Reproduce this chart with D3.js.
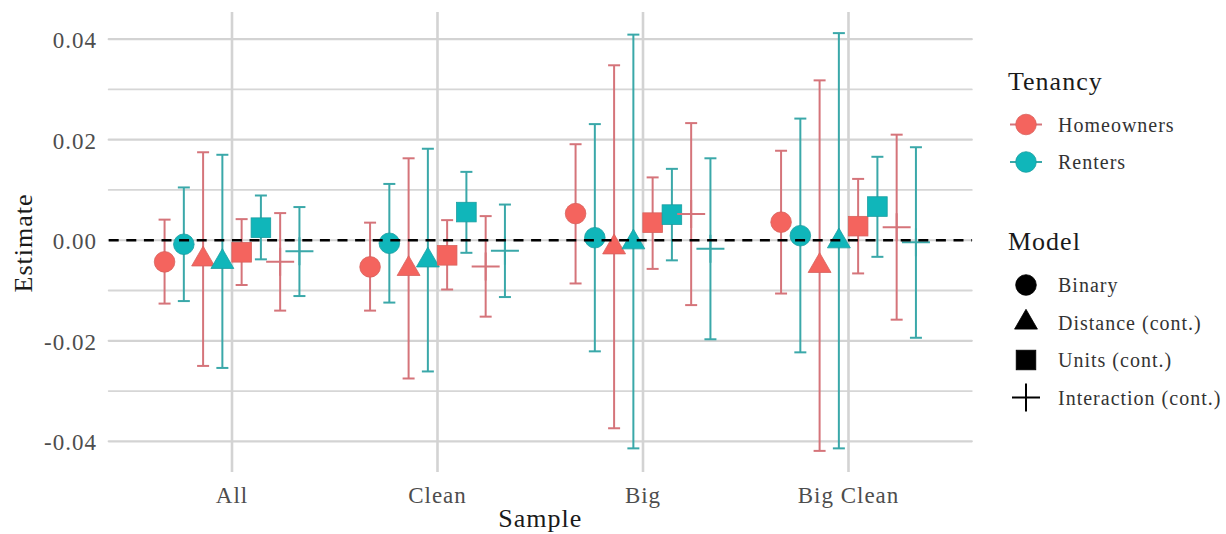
<!DOCTYPE html>
<html>
<head>
<meta charset="utf-8">
<script src="https://cdn.jsdelivr.net/npm/d3@7"></script>
<style>
  html, body { margin: 0; padding: 0; background: #ffffff; }
  svg { display: block; }
  text { font-family: "Liberation Serif", "DejaVu Serif", serif; letter-spacing: 1px; }
</style>
</head>
<body>
<svg id="chart" width="1226" height="534"></svg>
<script>
// Samples on the x axis, models (shape) and tenancy groups (colour)
const samples = ["All", "Clean", "Big", "Big Clean"];
const models = ["Binary", "Distance (cont.)", "Units (cont.)", "Interaction (cont.)"];
const tenancies = ["Homeowners", "Renters"];
const yTickValues = [-0.04, -0.02, 0, 0.02, 0.04];

// Point estimates and 95% interval bounds; one row per model, one column per sample
const ownerEstimate = [
  [-0.0043, -0.0053, 0.0053, 0.0036],
  [-0.0038, -0.0057, -0.0014, -0.0051],
  [-0.0024, -0.0030, 0.0035, 0.0028],
  [-0.0043, -0.0052, 0.0052, 0.0026]
];
const ownerLow = [
  [-0.0126, -0.0140, -0.0086, -0.0106],
  [-0.0250, -0.0275, -0.0374, -0.0419],
  [-0.0089, -0.0098, -0.0057, -0.0066],
  [-0.0140, -0.0152, -0.0129, -0.0158]
];
const ownerHigh = [
  [0.0041, 0.0035, 0.0191, 0.0178],
  [0.0175, 0.0163, 0.0348, 0.0318],
  [0.0042, 0.0040, 0.0125, 0.0122],
  [0.0054, 0.0048, 0.0233, 0.0210]
];
const renterEstimate = [
  [-0.0008, -0.0006, 0.0005, 0.0009],
  [-0.0043, -0.0040, -0.0004, -0.0002],
  [0.0025, 0.0056, 0.0051, 0.0067],
  [-0.0022, -0.0021, -0.0017, -0.0004]
];
const renterLow = [
  [-0.0121, -0.0124, -0.0221, -0.0223],
  [-0.0254, -0.0261, -0.0414, -0.0414],
  [-0.0038, -0.0025, -0.0040, -0.0033],
  [-0.0111, -0.0113, -0.0197, -0.0194]
];
const renterHigh = [
  [0.0105, 0.0112, 0.0231, 0.0242],
  [0.0170, 0.0182, 0.0409, 0.0412],
  [0.0089, 0.0136, 0.0142, 0.0166],
  [0.0066, 0.0071, 0.0163, 0.0185]
];

// Long-format rows for drawing
const rows = [];
samples.forEach((s, si) => {
  models.forEach((m, mi) => {
    rows.push({ sample: s, model: m, tenancy: "Homeowners",
      est: ownerEstimate[mi][si], lo: ownerLow[mi][si], hi: ownerHigh[mi][si] });
    rows.push({ sample: s, model: m, tenancy: "Renters",
      est: renterEstimate[mi][si], lo: renterLow[mi][si], hi: renterHigh[mi][si] });
  });
});

const svg = d3.select("#chart");
svg.append("rect").attr("width", 1226).attr("height", 534).attr("fill", "#ffffff");

const panel = { left: 108.7, right: 971.8, top: 12, bottom: 472 };

const x = d3.scalePoint().domain(samples).range([panel.left, panel.right]).padding(0.6);
const y = d3.scaleLinear().domain([-0.0461, 0.0454]).range([panel.bottom, panel.top]);

// Dodge: 8 slots (model x tenancy) within 75% of a category step
const dodgeKeys = [];
models.forEach(m => tenancies.forEach(t => dodgeKeys.push(m + "|" + t)));
const dodge = d3.scaleBand().domain(dodgeKeys)
  .range([-x.step() * 0.375, x.step() * 0.375]);
const px = d => x(d.sample) + dodge(d.model + "|" + d.tenancy) + dodge.bandwidth() / 2;

const fillColour = d3.scaleOrdinal().domain(tenancies).range(["#F4645E", "#10B6BA"]);
const barColour = d3.scaleOrdinal().domain(tenancies).range(["#D5747A", "#3AA8A9"]);
const edgeColour = d3.scaleOrdinal().domain(tenancies).range(["#D8625D", "#1A9EA1"]);

const fmt = d3.formatLocale({ decimal: ".", thousands: ",", grouping: [3], currency: ["", ""], minus: "-" }).format(".2f");

// Grid
const grid = svg.append("g");
const majorY = y.ticks(5);
const minorY = d3.range(majorY.length - 1).map(i => (majorY[i] + majorY[i + 1]) / 2);
grid.selectAll("line.minor").data(minorY).join("line")
  .attr("x1", panel.left).attr("x2", panel.right)
  .attr("y1", d => y(d)).attr("y2", d => y(d))
  .attr("stroke", "#D6D6D6").attr("stroke-width", 1.8).attr("stroke-linecap", "round");
grid.selectAll("line.major").data(majorY).join("line")
  .attr("x1", panel.left).attr("x2", panel.right)
  .attr("y1", d => y(d)).attr("y2", d => y(d))
  .attr("stroke", "#D3D3D3").attr("stroke-width", 2.2).attr("stroke-linecap", "round");
grid.selectAll("line.vert").data(samples).join("line")
  .attr("x1", d => x(d)).attr("x2", d => x(d))
  .attr("y1", panel.top).attr("y2", panel.bottom)
  .attr("stroke", "#D3D3D3").attr("stroke-width", 2.6);

// Y axis labels
svg.append("g").selectAll("text").data(yTickValues).join("text")
  .attr("x", 97).attr("y", d => y(d) + 9)
  .attr("text-anchor", "end").attr("font-size", 23).attr("fill", "#4D4D4D")
  .text(d => fmt(d));

// X axis labels
svg.append("g").selectAll("text").data(samples).join("text")
  .attr("x", d => x(d)).attr("y", 503)
  .attr("text-anchor", "middle").attr("font-size", 23).attr("fill", "#4D4D4D")
  .text(d => d);

// Axis titles
svg.append("text").attr("x", (panel.left + panel.right) / 2).attr("y", 527)
  .attr("text-anchor", "middle").attr("font-size", 26).attr("fill", "#1A1A1A").text("Sample");
svg.append("text").attr("transform", "translate(32,243) rotate(-90)")
  .attr("text-anchor", "middle").attr("font-size", 26).attr("fill", "#1A1A1A").text("Estimate");

// Error bars
const capHalf = 6;
const bars = svg.append("g");
bars.selectAll("g").data(rows).join("g").each(function (d) {
  const g = d3.select(this);
  const cx = px(d);
  const c = barColour(d.tenancy);
  g.append("line").attr("x1", cx).attr("x2", cx).attr("y1", y(d.lo)).attr("y2", y(d.hi))
    .attr("stroke", c).attr("stroke-width", 2);
  [d.lo, d.hi].forEach(v => g.append("line")
    .attr("x1", cx - capHalf).attr("x2", cx + capHalf).attr("y1", y(v)).attr("y2", y(v))
    .attr("stroke", c).attr("stroke-width", 2));
});

// Point shapes
const R = 8.5; // triangle base radius
function drawShape(g, model, cx, cy, fill, edge, crossColour) {
  if (model === "Binary") {
    g.append("circle").attr("cx", cx).attr("cy", cy).attr("r", 10.3)
      .attr("fill", fill).attr("stroke", edge).attr("stroke-width", 0.8);
  } else if (model === "Distance (cont.)") {
    const r = 1.555 * R, xc = 1.347 * R, yc = 0.778 * R;
    g.append("path")
      .attr("d", `M${cx},${cy - r}L${cx + xc},${cy + yc}L${cx - xc},${cy + yc}Z`)
      .attr("fill", fill).attr("stroke", edge).attr("stroke-width", 0.8);
  } else if (model === "Units (cont.)") {
    g.append("rect").attr("x", cx - 9.8).attr("y", cy - 9.8).attr("width", 19.6).attr("height", 19.6)
      .attr("fill", fill).attr("stroke", edge).attr("stroke-width", 0.8);
  } else {
    g.append("path")
      .attr("d", `M${cx - 14},${cy}H${cx + 14}M${cx},${cy - 14}V${cy + 14}`)
      .attr("fill", "none").attr("stroke", crossColour).attr("stroke-width", 2);
  }
}

const pts = svg.append("g");
rows.forEach(d => {
  const g = pts.append("g");
  drawShape(g, d.model, px(d), y(d.est), fillColour(d.tenancy), edgeColour(d.tenancy), barColour(d.tenancy));
});

// Reference line at zero
svg.append("line").attr("x1", panel.left).attr("x2", panel.right)
  .attr("y1", y(0)).attr("y2", y(0))
  .attr("stroke", "#000000").attr("stroke-width", 2.3).attr("stroke-dasharray", "10 7.6");

// Legends
const lg = svg.append("g");
lg.append("text").attr("x", 1008).attr("y", 90).attr("font-size", 26).attr("fill", "#1A1A1A").text("Tenancy");
const tenY = d3.scalePoint().domain(tenancies).range([124.5, 162]);
tenancies.forEach(t => {
  const cy = tenY(t);
  lg.append("line").attr("x1", 1010).attr("x2", 1042).attr("y1", cy).attr("y2", cy)
    .attr("stroke", barColour(t)).attr("stroke-width", 2);
  lg.append("circle").attr("cx", 1026).attr("cy", cy).attr("r", 10.3)
    .attr("fill", fillColour(t)).attr("stroke", edgeColour(t)).attr("stroke-width", 0.8);
  lg.append("text").attr("x", 1058).attr("y", cy + 7).attr("font-size", 20).attr("fill", "#333333").text(t);
});

lg.append("text").attr("x", 1008).attr("y", 249.5).attr("font-size", 26).attr("fill", "#1A1A1A").text("Model");
const modY = d3.scalePoint().domain(models).range([285, 397.5]);
models.forEach(m => {
  const cy = modY(m);
  const g = lg.append("g");
  drawShape(g, m, 1026, cy, "#000000", "#000000", "#000000");
  lg.append("text").attr("x", 1058).attr("y", cy + 7).attr("font-size", 20).attr("fill", "#333333").text(m);
});
</script>
</body>
</html>
